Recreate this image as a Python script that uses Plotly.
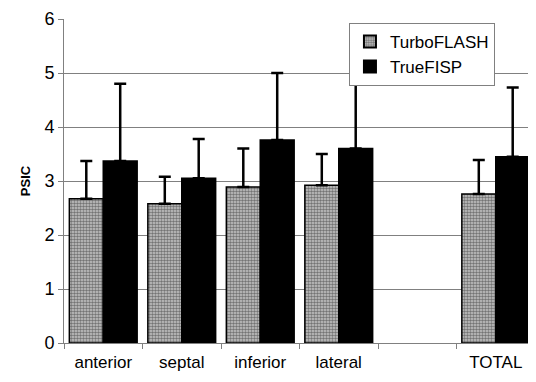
import plotly.graph_objects as go

categories = ["anterior", "septal", "inferior", "lateral", " ", "TOTAL"]
turbo_vals = [2.67, 2.58, 2.89, 2.92, None, 2.76]
turbo_err = [0.70, 0.50, 0.71, 0.58, None, 0.63]
true_vals = [3.37, 3.05, 3.76, 3.60, None, 3.45]
true_err = [1.43, 0.73, 1.24, 1.35, None, 1.28]
y_ticks = [0, 1, 2, 3, 4, 5, 6]

font = "Liberation Sans, Arial, sans-serif"

fig = go.Figure()
fig.add_trace(go.Bar(
    name="TurboFLASH", x=categories, y=turbo_vals,
    marker=dict(color="#888888", line=dict(color="black", width=1.5),
                pattern=dict(shape=".", fgcolor="#202020", bgcolor="#c8c8c8", size=3, solidity=0.55)),
    error_y=dict(type="data", symmetric=False, array=turbo_err,
                 arrayminus=[0]*len(turbo_err), color="black", thickness=2.5, width=6),
))
fig.add_trace(go.Bar(
    name="TrueFISP", x=categories, y=true_vals,
    marker=dict(color="black", line=dict(color="black", width=1.5)),
    error_y=dict(type="data", symmetric=False, array=true_err,
                 arrayminus=[0]*len(true_err), color="black", thickness=2.5, width=6),
))

fig.update_layout(
    width=528, height=374,
    margin=dict(l=56, r=1, t=8, b=39),
    paper_bgcolor="white", plot_bgcolor="white",
    barmode="group", bargap=0.136, bargroupgap=0,
    font=dict(family=font, color="black"),
    showlegend=True,
    legend=dict(x=0.605, y=0.988, xanchor="left", yanchor="top",
                bgcolor="white", bordercolor="#808080", borderwidth=1,
                font=dict(size=17, family=font), tracegroupgap=0,
                itemsizing="constant"),
    xaxis=dict(type="category", tickson="boundaries", ticks="outside",
               ticklen=5, tickcolor="#808080", showline=True, linecolor="#808080",
               tickfont=dict(size=17), showgrid=False, mirror=False,
               ticklabelstandoff=4),
    yaxis=dict(range=[0, 6], tickvals=y_ticks, ticks="outside", ticklen=5,
               tickcolor="#808080", showline=True, linecolor="#808080",
               showgrid=True, gridcolor="#808080", gridwidth=1,
               tickfont=dict(size=18), zeroline=False, ticklabeloverflow="allow",
               title=dict(text="<b>PSIC</b>", font=dict(size=13), standoff=10)),
)
fig.write_html("out.html")
